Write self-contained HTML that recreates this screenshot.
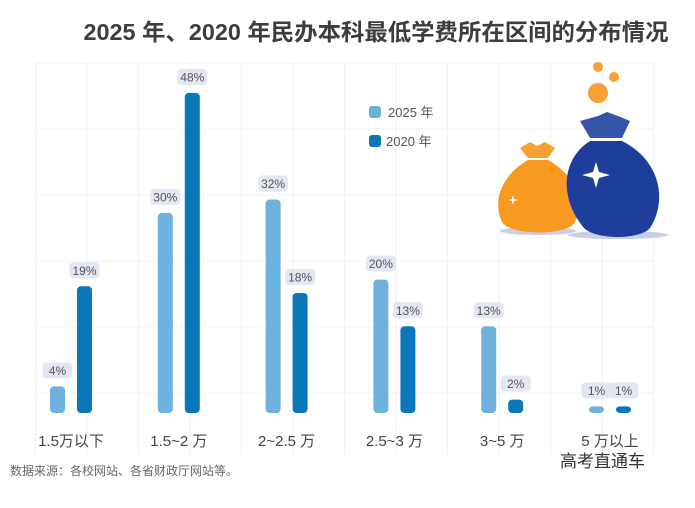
<!DOCTYPE html>
<html><head><meta charset="utf-8"><style>
body{margin:0;background:#fff;width:695px;height:503px;overflow:hidden;font-family:"Liberation Sans","Noto Sans CJK SC",sans-serif}
</style></head><body>
<svg width="695" height="503" xmlns="http://www.w3.org/2000/svg">
<text x="376" y="40" text-anchor="middle" font-size="23" font-weight="bold" fill="#3d3d3d" textLength="585" lengthAdjust="spacingAndGlyphs" font-family="Liberation Sans,Noto Sans CJK SC,sans-serif">2025 年、2020 年民办本科最低学费所在区间的分布情况</text>
<g id="grid"></g>
<g id="bars"></g>
<g>
<rect x="369" y="106" width="12" height="12" rx="3" fill="#6fb1dd"/>
<text x="388" y="117" font-size="13" fill="#555">2025 年</text>
<rect x="369" y="135" width="12" height="12" rx="3" fill="#0a78b8"/>
<text x="386" y="146" font-size="13" fill="#555">2020 年</text>
</g>
<g>
<circle cx="598" cy="67" r="5" fill="#f7a133"/><circle cx="614" cy="77" r="5" fill="#f7a133"/><circle cx="598" cy="93" r="10" fill="#f7a133"/>
<ellipse cx="538" cy="231" rx="38" ry="4" fill="#c8cde8"/>
<path d="M520 148 L530 142 L537 146 L545 142 L555 148 L548 158 L528 158 Z" fill="#f7a133"/>
<path d="M528 160 L548 160 C575 175 585 200 575 222 C568 236 510 236 502 222 C492 200 502 175 528 160 Z" fill="#f79a1f"/>
<ellipse cx="618" cy="235" rx="50" ry="4" fill="#c8cde8"/>
<path d="M580 121 L598 116 L607 112 L618 116 L630 121 L622 138 L590 138 Z" fill="#3556a8"/>
<path d="M590 141 L622 141 C660 160 668 200 650 228 C640 240 596 240 584 228 C560 200 560 160 590 141 Z" fill="#1d3e9a"/>
<path d="M596 162 L599 172 L610 175 L599 178 L596 188 L593 178 L582 175 L593 172 Z" fill="#fff"/>
<path d="M513 195 L514 199 L518 200 L514 201 L513 205 L512 201 L508 200 L512 199 Z" fill="#fff"/>
</g>
<text x="10" y="475" font-size="12" fill="#666">数据来源：各校网站、各省财政厅网站等。</text>
<text x="560" y="467" font-size="17" fill="#333">高考直通车</text>
</svg>
<script>
const categories=["1.5万以下","1.5~2 万","2~2.5 万","2.5~3 万","3~5 万","5 万以上"];
const values2025=[4,30,32,20,13,1];
const values2020=[19,48,18,13,2,1];
const NS="http://www.w3.org/2000/svg";
const baseY=413, scale=6.67, x0=50, groupStep=107.8, barW=15, gap=27;
function yOf(v){return baseY-v*scale;}
function xOf(i,s){return x0+i*groupStep+s*gap;}
function mk(tag,attrs,parent){const e=document.createElementNS(NS,tag);for(const k in attrs)e.setAttribute(k,attrs[k]);parent.appendChild(e);return e;}
const grid=document.getElementById('grid');
for(let i=0;i<=12;i++){const x=35.5+i*51.5;const l=mk('line',{x1:x,x2:x,y1:63,y2:455,stroke:'#eef1f5','stroke-width':1},grid);

}
for(let j=0;j<6;j++){const y=63+j*66;const l=mk('line',{x1:35,x2:653,y1:y,y2:y,stroke:'#eef1f5','stroke-width':1},grid);

}
const bars=document.getElementById('bars');
[[values2025,'#6fb1dd','2025'],[values2020,'#0a78b8','2020']].forEach(([vals,col,yr],s)=>{
vals.forEach((v,i)=>{
const x=xOf(i,s), y=yOf(v), h=Math.max(baseY-y,5);
const r=mk('rect',{x:x,y:baseY-h,width:barW,height:h,rx:4,fill:col},bars);


const lw=30, cx=x+barW/2, ly=baseY-h-24;
const bg=mk('rect',{x:cx-lw/2,y:ly,width:lw,height:16,rx:4,fill:'#e4e7f3'},bars);


const t=mk('text',{x:cx,y:ly+12.5,'text-anchor':'middle','font-size':12,fill:'#555'},bars);
t.textContent=v+'%';


});});
categories.forEach((c,i)=>{
const t=mk('text',{x:x0+i*groupStep+21,y:446,'text-anchor':'middle','font-size':15,fill:'#444'},bars);
t.textContent=c;


});
</script>
</body></html>
